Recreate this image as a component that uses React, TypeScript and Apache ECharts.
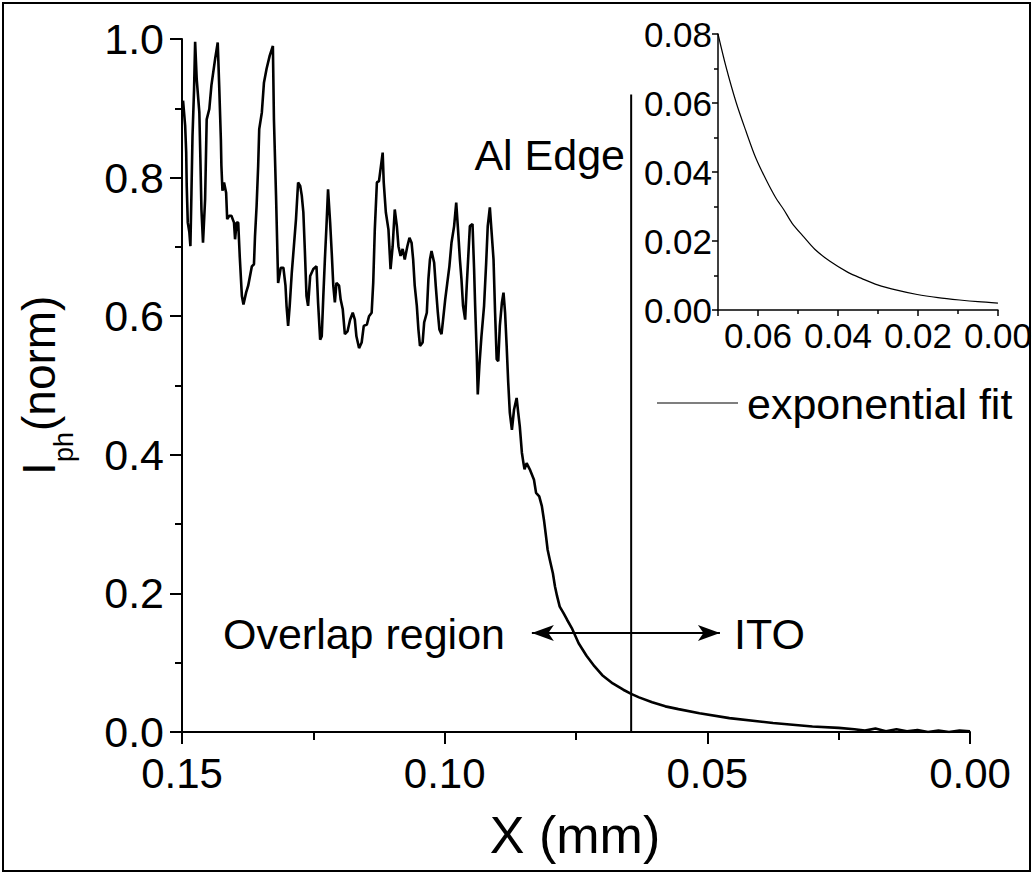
import React, { useEffect, useRef } from "react";
import * as echarts from "echarts";

const FONT = '"Liberation Sans", Arial, Helvetica, sans-serif';

// Main photocurrent profile (X in mm, I_ph normalised)
const mainX = [
  0.1498, 0.1494, 0.1492, 0.1491, 0.1489, 0.1486, 0.1484, 0.1482, 0.148, 0.1477,
  0.1475, 0.1472, 0.1467, 0.1465, 0.1463, 0.146, 0.1456, 0.1453, 0.1448, 0.1444,
  0.1437, 0.1432, 0.1429, 0.1426, 0.1425, 0.1423, 0.142, 0.1416, 0.1414, 0.141,
  0.1406, 0.1401, 0.1399, 0.1396, 0.1393, 0.139, 0.1386, 0.1383, 0.1378, 0.1374,
  0.1367, 0.1363, 0.1361, 0.1358, 0.1355, 0.1353, 0.1348, 0.1344, 0.1339, 0.1333,
  0.1327, 0.1325, 0.1321, 0.1319, 0.1317, 0.1312, 0.1307, 0.1303, 0.1301, 0.1298,
  0.1295, 0.1291, 0.1287, 0.1283, 0.1279, 0.1275, 0.1272, 0.1269, 0.1266, 0.1263,
  0.126, 0.1256, 0.125, 0.1244, 0.1241, 0.1237, 0.1234, 0.1231, 0.1228, 0.1225,
  0.1222, 0.1218, 0.1215, 0.1212, 0.1209, 0.1206, 0.1201, 0.1198, 0.1194, 0.119,
  0.1185, 0.118, 0.1175, 0.1171, 0.1168, 0.1163, 0.1158, 0.1154, 0.1148, 0.1144,
  0.1139, 0.1136, 0.1133, 0.1129, 0.1125, 0.1118, 0.1116, 0.1112, 0.1107, 0.1103,
  0.1099, 0.1095, 0.1091, 0.1088, 0.1084, 0.108, 0.1076, 0.1071, 0.1067, 0.1063,
  0.106, 0.1057, 0.1053, 0.105, 0.1047, 0.1042, 0.1039, 0.1034, 0.1031, 0.1028,
  0.1025, 0.102, 0.1017, 0.1013, 0.101, 0.1006, 0.1003, 0.0999, 0.0995, 0.0991,
  0.0987, 0.0982, 0.0978, 0.0975, 0.0971, 0.0968, 0.0965, 0.0961, 0.0958, 0.0955,
  0.0952, 0.0947, 0.0944, 0.0942, 0.0939, 0.0937, 0.0934, 0.093, 0.0925, 0.0921,
  0.0918, 0.0914, 0.0911, 0.0907, 0.0904, 0.0901, 0.0898, 0.0895, 0.0891, 0.0888,
  0.0885, 0.0882, 0.0879, 0.0876, 0.0872, 0.0868, 0.0863, 0.086, 0.0857, 0.0853,
  0.085, 0.0848, 0.0844, 0.0838, 0.083, 0.0826, 0.082, 0.0815, 0.0811, 0.0807,
  0.0804, 0.08, 0.0794, 0.079, 0.0786, 0.0781, 0.0774, 0.0767, 0.0758, 0.0745,
  0.073, 0.0715, 0.07, 0.068, 0.066, 0.0645, 0.063, 0.0605, 0.058, 0.0555,
  0.0515, 0.0458, 0.0375, 0.03, 0.025, 0.022, 0.02, 0.018, 0.016, 0.014,
  0.012, 0.01, 0.008, 0.006, 0.004, 0.002, 0.0,
];
const mainY = [
  0.911, 0.875, 0.836, 0.788, 0.735, 0.721, 0.701, 0.778, 0.86, 0.928,
  0.996, 0.942, 0.894, 0.827, 0.754, 0.706, 0.769, 0.884, 0.899, 0.933,
  0.971, 0.995, 0.928, 0.855, 0.817, 0.781, 0.793, 0.778, 0.74, 0.745,
  0.745, 0.735, 0.711, 0.735, 0.735, 0.685, 0.629, 0.617, 0.634, 0.644,
  0.672, 0.675, 0.716, 0.759, 0.817, 0.87, 0.894, 0.937, 0.957, 0.976,
  0.99, 0.884, 0.774, 0.711, 0.648, 0.67, 0.67, 0.644, 0.615, 0.586,
  0.615, 0.663, 0.701, 0.74, 0.793, 0.788, 0.774, 0.75, 0.692, 0.629,
  0.615, 0.658, 0.668, 0.672, 0.62, 0.566, 0.571, 0.629, 0.682, 0.73,
  0.783, 0.735, 0.692, 0.644, 0.62, 0.648, 0.644, 0.624, 0.61, 0.574,
  0.578, 0.595, 0.605, 0.595, 0.571, 0.554, 0.562, 0.586, 0.588, 0.6,
  0.605, 0.648, 0.725, 0.793, 0.795, 0.836, 0.793, 0.75, 0.725, 0.668,
  0.701, 0.754, 0.73, 0.701, 0.687, 0.697, 0.682, 0.701, 0.713, 0.706,
  0.682, 0.644, 0.615, 0.581, 0.557, 0.562, 0.591, 0.605, 0.653, 0.682,
  0.694, 0.677, 0.644, 0.605, 0.581, 0.574, 0.595, 0.624, 0.648, 0.672,
  0.706, 0.73, 0.764, 0.73, 0.682, 0.653, 0.615, 0.595, 0.644, 0.687,
  0.73, 0.733, 0.668, 0.615, 0.547, 0.487, 0.528, 0.571, 0.615, 0.677,
  0.73, 0.757, 0.725, 0.682, 0.605, 0.538, 0.535, 0.586, 0.62, 0.634,
  0.605, 0.557, 0.504, 0.461, 0.436, 0.465, 0.482, 0.461, 0.441, 0.403,
  0.388, 0.379, 0.388, 0.379, 0.364, 0.345, 0.34, 0.326, 0.306, 0.282,
  0.263, 0.249, 0.229, 0.21, 0.196, 0.181, 0.172, 0.162, 0.15, 0.128,
  0.11, 0.095, 0.082, 0.07, 0.061, 0.055, 0.05, 0.043, 0.037, 0.033,
  0.027, 0.02, 0.013, 0.008, 0.006, 0.004, 0.002, 0.005, 0.001, 0.004,
  0.001, 0.003, 0.0, 0.002, 0.0, 0.002, 0.001,
];

// Al edge marker
const alEdgeX = 0.0645;
const alEdgeTop = 0.92;

// double arrow between overlap region and ITO
const arrowX = [0.0834, 0.0476];
const arrowY = 0.143;

// Inset: exponential fit
const fitX = [
  0.07, 0.068, 0.0655, 0.063, 0.0606, 0.058, 0.0556, 0.0535, 0.0515, 0.0485,
  0.0458, 0.042, 0.0375, 0.034, 0.0301, 0.025, 0.0202, 0.015, 0.0096, 0.005, 0.0,
];
const fitY = [
  0.08, 0.0705, 0.0603, 0.0518, 0.0442, 0.0378, 0.0326, 0.029, 0.0252, 0.0211,
  0.0176, 0.0141, 0.0109, 0.0091, 0.0073, 0.0057, 0.0045, 0.0036, 0.0029, 0.0024, 0.002,
];

const mainTicksX = { min: 0, max: 0.15, interval: 0.05 };
const mainTicksY = { min: 0, max: 1.0, interval: 0.2 };
const insetTicksX = { min: 0, max: 0.07, interval: 0.02 };
const insetTicksY = { min: 0, max: 0.08, interval: 0.02 };

export default function App() {
  const ref = useRef<HTMLDivElement>(null);

  useEffect(() => {
    document.body.style.margin = "0";
    if (!ref.current) return;
    const chart = echarts.init(ref.current, null, { renderer: "svg" });

    const black = "#000";
    const mainPts = mainX.map((x, i) => [x, mainY[i]]);
    const fitPts = fitX.map((x, i) => [x, fitY[i]]);

    const axisCommon = (fs: number, lw: number, tl: number, mtl: number, margin: number, dec: number) => ({
      axisLine: { show: true, onZero: false, lineStyle: { color: black, width: lw } },
      axisTick: { show: true, inside: false, length: tl, lineStyle: { color: black, width: lw } },
      minorTick: { show: true, splitNumber: 2, length: mtl, lineStyle: { color: black, width: lw } },
      splitLine: { show: false },
      minorSplitLine: { show: false },
      axisLabel: {
        color: black,
        fontSize: fs,
        fontFamily: FONT,
        margin,
        formatter: (v: number) => v.toFixed(dec),
      },
    });

    const option: any = {
      animation: false,
      backgroundColor: "#fff",
      grid: [
        { left: 182, right: 65, top: 39, bottom: 143 },
        { left: 718, right: 33, top: 34, bottom: 565 },
      ],
      xAxis: [
        {
          type: "value",
          gridIndex: 0,
          inverse: true,
          ...mainTicksX,
          ...axisCommon(42, 2, 12, 8, 20, 2),
        },
        {
          type: "value",
          gridIndex: 1,
          inverse: true,
          ...insetTicksX,
          ...axisCommon(35, 1.5, 6, 4, 8, 2),
        },
      ],
      yAxis: [
        {
          type: "value",
          gridIndex: 0,
          ...mainTicksY,
          ...axisCommon(43, 2, 12, 7, 18, 1),
        },
        {
          type: "value",
          gridIndex: 1,
          ...insetTicksY,
          ...axisCommon(35, 1.5, 6, 4, 6, 2),
        },
      ],
      series: [
        {
          type: "line",
          xAxisIndex: 0,
          yAxisIndex: 0,
          data: mainPts,
          symbol: "none",
          silent: true,
          lineStyle: { color: black, width: 2.6 },
        },
        {
          type: "line",
          xAxisIndex: 0,
          yAxisIndex: 0,
          data: [
            [alEdgeX, 0],
            [alEdgeX, alEdgeTop],
          ],
          symbol: "none",
          silent: true,
          lineStyle: { color: black, width: 2 },
          markLine: {
            silent: true,
            symbol: ["arrow", "arrow"],
            symbolSize: [12, 22],
            label: { show: false },
            lineStyle: { color: black, width: 2, type: "solid" },
            emphasis: { disabled: true },
            data: [
              [
                { coord: [arrowX[0], arrowY] },
                { coord: [arrowX[1], arrowY] },
              ],
            ],
          },
        },
        {
          type: "line",
          xAxisIndex: 1,
          yAxisIndex: 1,
          data: fitPts,
          symbol: "none",
          smooth: 0.3,
          silent: true,
          lineStyle: { color: black, width: 1.2 },
        },
      ],
      graphic: [
        {
          type: "rect",
          shape: { x: 3, y: 3, width: 1027, height: 868 },
          style: { fill: "none", stroke: black, lineWidth: 2 },
          silent: true,
        },
        {
          type: "text",
          x: 575,
          y: 835,
          style: { text: "X (mm)", font: `52px ${FONT}`, fill: black, align: "center", verticalAlign: "middle" },
        },
        {
          type: "group",
          x: 39,
          y: 475,
          rotation: Math.PI / 2,
          children: [
            { type: "text", x: 0, y: 0, style: { text: "I", font: `46px ${FONT}`, fill: black, align: "left", verticalAlign: "middle" } },
            { type: "text", x: 13, y: 25, style: { text: "ph", font: `27px ${FONT}`, fill: black, align: "left", verticalAlign: "middle" } },
            { type: "text", x: 44, y: 0, style: { text: "(norm)", font: `46px ${FONT}`, fill: black, align: "left", verticalAlign: "middle" } },
          ],
        },
        {
          type: "text",
          x: 625,
          y: 155,
          style: { text: "Al Edge", font: `43px ${FONT}`, fill: black, align: "right", verticalAlign: "middle" },
        },
        {
          type: "text",
          x: 505,
          y: 634,
          style: { text: "Overlap region", font: `43px ${FONT}`, fill: black, align: "right", verticalAlign: "middle" },
        },
        {
          type: "text",
          x: 734,
          y: 634,
          style: { text: "ITO", font: `43px ${FONT}`, fill: black, align: "left", verticalAlign: "middle" },
        },
        {
          type: "line",
          shape: { x1: 657, y1: 403, x2: 738, y2: 403 },
          style: { stroke: black, lineWidth: 1.2 },
        },
        {
          type: "text",
          x: 747,
          y: 404,
          style: { text: "exponential fit", font: `43px ${FONT}`, fill: black, align: "left", verticalAlign: "middle" },
        },
      ],
    };

    chart.setOption(option);
    return () => chart.dispose();
  }, []);

  return <div ref={ref} style={{ width: 1035, height: 875 }} />;
}
